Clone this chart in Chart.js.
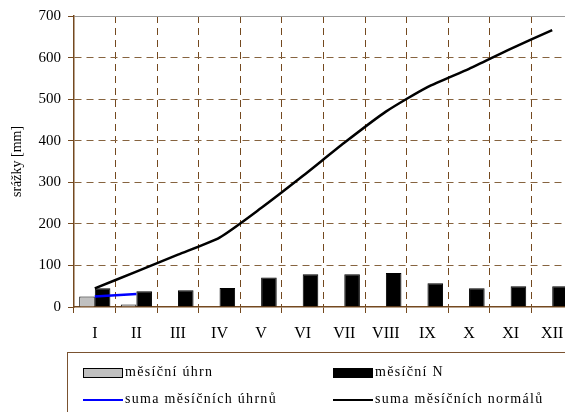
<!DOCTYPE html>
<html>
<head>
<meta charset="utf-8">
<script src="https://cdn.jsdelivr.net/npm/chart.js@4"></script>
<style>
  body { margin: 0; overflow: hidden; background: #fff; font-family: 'Liberation Serif', serif; }
  #wrap { position: relative; width: 600px; height: 412px; }
  #legend { position: absolute; left: 67px; top: 352px; width: 540px; height: 70px; border: 1px solid #7a5230; font-size: 14px; color: #000; }
  .item { position: absolute; height: 16px; line-height: 16px; letter-spacing: 1.3px; white-space: nowrap; }
  .box { display: inline-block; width: 38px; height: 8px; vertical-align: middle; margin-right: 2px; border: 1px solid #000; }
  .ln { display: inline-block; width: 40px; height: 2px; vertical-align: middle; margin-right: 2px; }
</style>
</head>
<body>
<div id="wrap">
  <canvas id="chart" width="600" height="412"></canvas>
  <div id="legend">
    <div class="item" style="left:15px; top:11px"><span class="box" style="background:#c0c0c0"></span>měsíční úhrn</div>
    <div class="item" style="left:265px; top:11px"><span class="box" style="background:#000"></span>měsíční N</div>
    <div class="item" style="left:15px; top:38px"><span class="ln" style="background:#0000ff"></span>suma měsíčních úhrnů</div>
    <div class="item" style="left:265px; top:38px"><span class="ln" style="background:#000"></span>suma měsíčních normálů</div>
  </div>
</div>
<script>
// months (roman numerals)
const months = ['I', 'II', 'III', 'IV', 'V', 'VI', 'VII', 'VIII', 'IX', 'X', 'XI', 'XII'];
// monthly totals (only first two months measured)
const monthlyTotal = [25, 6, null, null, null, null, null, null, null, null, null, null];
// monthly normals
const monthlyNormal = [45, 38, 40, 46, 71, 79, 79, 82, 57, 45, 50, 50];
// cumulative sums
const sumTotals = [25, 31, null, null, null, null, null, null, null, null, null, null];
const sumNormals = [45, 85, 126, 167, 238, 315, 395, 470, 529, 573, 621, 666];
const yTicks = [0, 100, 200, 300, 400, 500, 600, 700];

const brownV = '#74491f';
const brownH = '#86633f';
const serif = 'Liberation Serif';

new Chart(document.getElementById('chart'), {
  type: 'bar',
  data: {
    labels: months,
    datasets: [
      {
        label: 'suma měsíčních úhrnů',
        type: 'line',
        data: sumTotals,
        borderColor: '#0000ff',
        borderWidth: 2.5,
        pointRadius: 0,
        tension: 0,
        order: 0,
      },
      {
        label: 'suma měsíčních normálů',
        type: 'line',
        data: sumNormals,
        borderColor: '#000',
        borderWidth: 2.5,
        pointRadius: 0,
        tension: 0.2,
        order: 0,
      },
      {
        label: 'měsíční úhrn',
        data: monthlyTotal,
        backgroundColor: '#c0c0c0',
        borderColor: '#000',
        borderWidth: 1,
        order: 1,
      },
      {
        label: 'měsíční N',
        data: monthlyNormal,
        backgroundColor: '#000',
        borderColor: '#000',
        borderWidth: 1,
        order: 1,
      },
    ],
  },
  options: {
    responsive: false,
    animation: false,
    layout: { padding: { top: 13, right: 27, bottom: 0, left: 0 } },
    datasets: { bar: { categoryPercentage: 0.75, barPercentage: 1.0 } },
    plugins: { legend: { display: false }, tooltip: { enabled: false } },
    scales: {
      x: {
        offset: true,
        grid: {
          offset: true,
          color: (c) => (c.index === 0 ? 'rgba(0,0,0,0)' : brownV),
          lineWidth: 1,
          tickLength: 6,
          tickColor: brownV,
        },
        border: { color: brownV, width: 1.5, dash: [7, 5] },
        ticks: { color: '#000', font: { family: serif, size: 16 }, padding: 11 },
        afterFit: (axis) => { axis.height = 105; },
      },
      y: {
        min: 0,
        max: 700,
        afterBuildTicks: (axis) => { axis.ticks = yTicks.map((v) => ({ value: v })); },
        grid: {
          color: (c) => {
            const v = c.tick ? c.tick.value : 0;
            if (v === 0) return 'rgba(0,0,0,0)';
            return v === 700 ? '#999' : brownH;
          },
          lineWidth: 1,
          tickLength: 6,
          tickColor: brownV,
        },
        border: {
          color: brownV,
          width: 1.5,
          dash: (c) => (c.tick && c.tick.value === 700 ? [] : [7, 5]),
        },
        ticks: { color: '#000', font: { family: serif, size: 15 }, padding: 7 },
        title: {
          display: true,
          text: 'srážky [mm]',
          color: '#000',
          font: { family: serif, size: 14 },
          padding: { top: 9, bottom: 0 },
        },
        afterFit: (axis) => { axis.width = 74; },
      },
    },
  },
});
</script>
</body>
</html>
